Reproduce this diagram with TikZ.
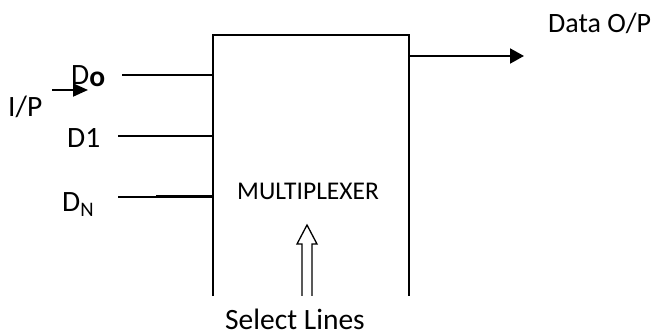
\documentclass[tikz,border=0pt]{standalone}
\usepackage{fontspec}
\setmainfont{Carlito}
\usepackage{tikz}
\usetikzlibrary{arrows.meta}

\begin{document}
\begin{tikzpicture}[x=1pt,y=-1pt]
      \tikzset{
        label/.style={inner sep=0pt, anchor=base west, font=\fontsize{29.5}{32}\selectfont},
        muxbox/.style={minimum width=196pt, minimum height=261pt, inner sep=0pt},
        wire/.style={line width=2pt},
        pfeil/.style={-{Triangle[length=14pt,width=15pt]}, line width=2pt}
      }
      \useasboundingbox (0,0) rectangle (654,336);

      % block, open at the bottom
      \node[muxbox] (mux) at (311,165.5) {};
      \draw[wire] (mux.south west) -- (mux.north west) -- (mux.north east) -- (mux.south east);
      \node[label, font=\fontsize{25.5}{28}\selectfont] (muxtext) at (237,200) {MULTIPLEXER};

      % inputs
      \node[label] (ip) at (8,117) {I/P};
      \node[label] (d0) at (71,85) {D\raisebox{-2pt}{\bfseries o}};
      \node[label] (d1) at (67,148) {D1};
      \node[label] (dn) at (62,212) {D\textsubscript{N}};

      \coordinate (in0) at (122,75);
      \coordinate (in1) at (118,136);
      \coordinate (inn) at (118,197);
      \coordinate (inthick) at (156,197);
      \coordinate (ipa) at (52,90);
      \coordinate (ipb) at (88,90);

      \draw[wire] (in0) -- (in0 -| mux.west);
      \draw[wire] (in1) -- (in1 -| mux.west);
      \draw[wire] (inn) -- (inn -| mux.west);
      \draw[line width=3pt] (inthick) -- (inthick -| mux.west);
      \draw[pfeil, -{Triangle[length=15pt,width=13pt]}] (ipa) -- (ipb);

      % output
      \coordinate (out) at (524,56);
      \draw[pfeil] (out -| mux.east) -- (out);
      \node[label, font=\fontsize{28}{30}\selectfont] (dout) at (548,33) {Data O/P};

      % select lines
      \draw[line width=1.3pt] (302,296) -- (302,244) -- (297,244) -- (307,225)
        -- (317,244) -- (312,244) -- (312,296);
      \node[label] (sel) at (225,330) {Select Lines};

    \end{tikzpicture}
\end{document}
